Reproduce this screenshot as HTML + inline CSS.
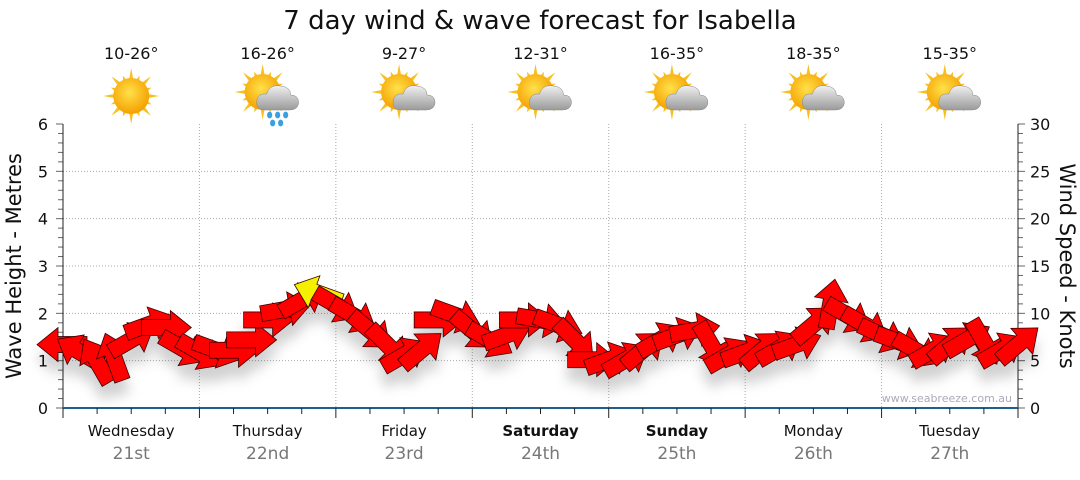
<!DOCTYPE html>
<html><head><meta charset="utf-8"><style>
body{margin:0;background:#fff;width:1080px;height:475px;overflow:hidden;font-family:"Liberation Sans","DejaVu Sans",sans-serif}
svg text{font-family:"DejaVu Sans","Liberation Sans",sans-serif}
</style></head><body>
<svg id="c" width="1080" height="475" viewBox="0 0 1080 475">
<defs>
<radialGradient id="sunG" cx="45%" cy="40%" r="60%"><stop offset="0" stop-color="#ffe14a"/><stop offset="1" stop-color="#f5a000"/></radialGradient>
<linearGradient id="cloudG" x1="0" y1="0" x2="0" y2="1"><stop offset="0" stop-color="#f0f0f0"/><stop offset="1" stop-color="#9a9a9a"/></linearGradient>
<filter id="sh" x="-50%" y="-50%" width="200%" height="250%"><feDropShadow dx="0" dy="14" stdDeviation="6" flood-color="#000" flood-opacity="0.18"/></filter>
</defs>
<text x="540" y="29" text-anchor="middle" font-size="26" fill="#111">7 day wind &amp; wave forecast for Isabella</text>
<g id="grid"></g><g id="axes"></g><g id="icons"></g>
<text x="1012" y="402" text-anchor="end" font-size="11" fill="#aab">www.seabreeze.com.au</text>
<g id="arrows" filter="url(#sh)"></g>
<text transform="translate(21,266) rotate(-90)" text-anchor="middle" font-size="21" fill="#111">Wave Height - Metres</text>
<text transform="translate(1060,266) rotate(90)" text-anchor="middle" font-size="21" fill="#111">Wind Speed - Knots</text>
</svg>
<script>
const days=["Wednesday","Thursday","Friday","Saturday","Sunday","Monday","Tuesday"];
const dates=["21st","22nd","23rd","24th","25th","26th","27th"];
const temps=["10-26°","16-26°","9-27°","12-31°","16-35°","18-35°","15-35°"];
const weather=["sun","rain","cloud","cloud","cloud","cloud","cloud"];
const waveTicks=[0,1,2,3,4,5,6];
const windTicks=[0,5,10,15,20,25,30];
const windSpeed=[6.7,5.9,4.9,5.3,7.2,8.8,8.5,6.3,5.9,6.1,6.1,7.2,9.3,10.4,11.4,12.1,10.9,9.8,8.2,6.7,5.6,6.1,9.3,9.8,8.2,7.2,7.7,9.3,9.3,8.8,7.2,5.1,5.1,5.1,6.1,7.2,7.7,8.2,6.7,5.6,5.9,6.1,6.3,6.7,8.8,10.9,9.8,8.8,7.7,7.0,6.1,6.1,6.7,7.2,7.0,6.1,6.7];
const windDir=[180,210,240,250,-30,-20,0,30,30,20,0,0,0,-10,-30,200,30,30,40,45,-30,-40,0,20,40,30,-20,0,10,20,45,0,-20,-30,-40,-30,-20,-10,60,-30,-20,-40,-30,-20,-40,-80,30,30,25,20,30,-30,-40,-30,60,-30,-40];
const NS="http://www.w3.org/2000/svg";
const X0=63,X1=1018,YT=124,YB=408;
const dayW=(X1-X0)/7;
const xT=i=>X0+i*dayW/8;
const yWave=m=>YB-(m/6)*(YB-YT);
const yWind=k=>YB-(k/30)*(YB-YT);
function el(t,a,p){const e=document.createElementNS(NS,t);for(const k in a)e.setAttribute(k,a[k]);p.appendChild(e);return e;}
const grid=document.getElementById('grid'),axes=document.getElementById('axes'),icons=document.getElementById('icons'),arr=document.getElementById('arrows');
waveTicks.forEach(v=>{if(v>0&&v<6){const g=el('line',{x1:X0,x2:X1,y1:yWave(v),y2:yWave(v),stroke:'#aaa','stroke-dasharray':'1,2'},grid);
}
const t=el('text',{x:48,y:yWave(v)+6,'text-anchor':'end','font-size':16,fill:'#111'},axes);t.textContent=v;
});
windTicks.forEach(v=>{const t=el('text',{x:1030,y:yWind(v)+6,'font-size':16,fill:'#111'},axes);t.textContent=v;
});
for(let i=0;i<=30;i++){const y=YB-i*(YB-YT)/30;const L=i%5==0?7:5;
el('line',{x1:X0-L,x2:X0,y1:y,y2:y,stroke:'#666'},axes);el('line',{x1:X1,x2:X1+L,y1:y,y2:y,stroke:'#666'},axes);}
el('line',{x1:X0,x2:X0,y1:YT,y2:YB,stroke:'#222'},axes);
el('line',{x1:X1,x2:X1,y1:YT,y2:YB,stroke:'#222'},axes);
el('line',{x1:X0,x2:X1,y1:YB,y2:YB,stroke:'#1f5f8f','stroke-width':2},axes);
for(let i=0;i<=28;i++){const x=X0+i*dayW/4;el('line',{x1:x,x2:x,y1:YB,y2:YB+(i%4==0?10:6),stroke:'#222'},axes);}
for(let d=0;d<7;d++){
 const x0=X0+d*dayW,cx=x0+dayW/2;
 if(d>0){const g=el('line',{x1:x0,x2:x0,y1:YT,y2:YB,stroke:'#aaa','stroke-dasharray':'1,2'},grid);}
 const t=el('text',{x:cx,y:436,'text-anchor':'middle','font-size':15,fill:'#111','font-weight':(d==3||d==4)?'bold':'normal'},axes);t.textContent=days[d];
 
 const t2=el('text',{x:cx,y:459,'text-anchor':'middle','font-size':17,fill:'#777'},axes);t2.textContent=dates[d];
 
 const t3=el('text',{x:cx,y:59,'text-anchor':'middle','font-size':16,fill:'#111'},icons);t3.textContent=temps[d];
 
 const g=el('g',{transform:`translate(${cx},96)`},icons);
 
 const sx=weather[d]=='sun'?0:-5,sy=weather[d]=='sun'?0:-4;
 for(let r=0;r<16;r++){const a=r*Math.PI/8,L=r%2?22:28;
  el('polygon',{points:`${sx+Math.cos(a-0.16)*15},${sy+Math.sin(a-0.16)*15} ${sx+Math.cos(a)*L},${sy+Math.sin(a)*L} ${sx+Math.cos(a+0.16)*15},${sy+Math.sin(a+0.16)*15}`,fill:'#f7c020'},g);}
 el('circle',{cx:sx,cy:sy,r:18,fill:'url(#sunG)'},g);
 if(weather[d]!='sun'){
  el('path',{d:'M-3,14 Q-12,14 -11,5 Q-10,-3 -1,-2 Q2,-12 13,-10 Q23,-9 23,-1 Q31,-1 31,7 Q30,14 22,14 Z',fill:'url(#cloudG)',stroke:'#888','stroke-width':0.5},g);
  if(weather[d]=='rain'){[[2,19],[10,19],[18,19],[5,27],[13,27]].forEach(p=>el('ellipse',{cx:p[0],cy:p[1],rx:2.6,ry:3.4,fill:'#3aa0e0'},g));}
 }
}
windSpeed.forEach((v,i)=>{
 const x=xT(i),y=yWind(v);
 const col=v>=11.8?'#f5f000':'#ff0000';
 const p=el('polygon',{points:'-24,-8 5,-8 5,-17 26,0 5,17 5,8 -24,8',fill:col,stroke:'#3a0000','stroke-width':0.8,transform:`translate(${x},${y}) rotate(${windDir[i]})`},arr);
 
 
});
</script>
</body></html>
